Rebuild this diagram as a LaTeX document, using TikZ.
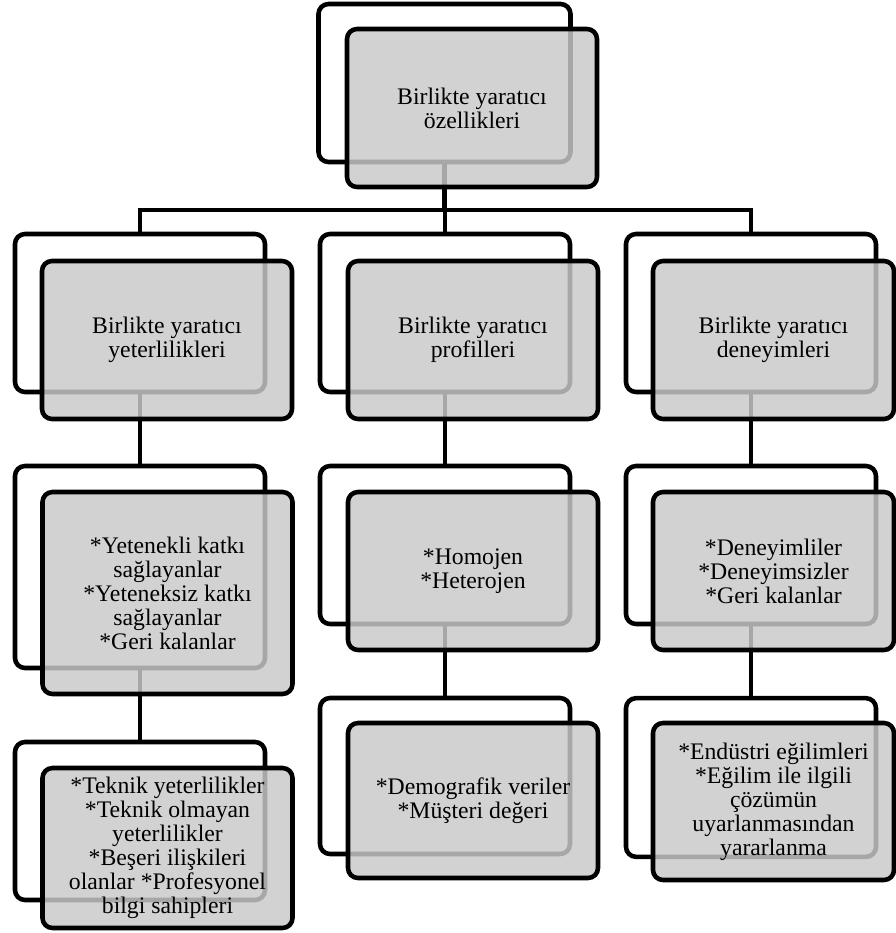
\documentclass[tikz,border=0pt]{standalone}
\usepackage{fontspec}
\setmainfont{Liberation Serif}
\begin{document}
\begin{tikzpicture}[x=0.75pt,y=-0.75pt,
  frame/.style={draw=black, line width=3.4pt, rounded corners=7.5pt, fill=white,
    minimum width=187.5pt, minimum height=118.5pt, inner sep=0pt},
  card/.style={draw=black, line width=3.4pt, rounded corners=7.5pt,
    fill=black!21, fill opacity=0.83, text opacity=1,
    minimum width=187.5pt, minimum height=118.5pt, inner sep=2pt,
    align=center, font=\fontsize{17.8}{18}\selectfont},
  link/.style={draw=black, line width=3.4pt}]
\useasboundingbox (0,0) rectangle (896,933);

% back frames
\node[frame, minimum width=189pt] (r0b) at (444.5,83) {};
\node[frame] (a1b) at (140,313) {};
\node[frame] (b1b) at (445,313) {};
\node[frame] (c1b) at (751,313) {};
\node[frame, minimum height=151.5pt] (a2b) at (140,567) {};
\node[frame] (b2b) at (445,545) {};
\node[frame] (c2b) at (751,545) {};
\node[frame] (a3b) at (140,821) {};
\node[frame, minimum height=117pt] (b3b) at (445,776) {};
\node[frame, minimum height=119pt] (c3b) at (751,777.5) {};

% connectors
\coordinate (bar) at (444.5,210);
\draw[link] (r0b.south) -- (bar);
\draw[link] (a1b.north) |- (bar);
\draw[link] (c1b.north) |- (bar);
\draw[link] (b1b.north) -- (b1b.north |- bar);
\draw[link] (a1b.south) -- (a2b.north);
\draw[link] (b1b.south) -- (b2b.north);
\draw[link] (c1b.south) -- (c2b.north);
\draw[link] (a2b.south) -- (a3b.north);
\draw[link] (b2b.south) -- (b3b.north);
\draw[link] (c2b.south) -- (c3b.north);

% front cards
\node[card] (r0) at (472,108) {Birlikte yaratıcı\\özellikleri};
\node[card] (a1) at (167,340) {Birlikte yaratıcı\\yeterlilikleri};
\node[card] (b1) at (473,340) {Birlikte yaratıcı\\profilleri};
\node[card, minimum width=180.75pt] (c1) at (773.5,340) {Birlikte yaratıcı\\deneyimleri};
\node[card, minimum height=151.5pt] (a2) at (167.5,593)
  {*Yetenekli katkı\\sağlayanlar\\*Yeteneksiz katkı\\sağlayanlar\\*Geri kalanlar};
\node[card] (b2) at (473,571) {*Homojen\\*Heterojen};
\node[card, minimum width=180.75pt] (c2) at (773.5,571)
  {*Deneyimliler\\*Deneyimsizler\\*Geri kalanlar};
\node[card, minimum height=120pt] (a3) at (167.5,848)
  {*Teknik yeterlilikler\\*Teknik olmayan\\yeterlilikler\\*Beşeri ilişkileri\\olanlar *Profesyonel\\bilgi sahipleri};
\node[card, minimum height=116.25pt] (b3) at (473,800.5)
  {*Demografik veriler\\*Müşteri değeri};
\node[card, minimum width=180.75pt, minimum height=117.75pt] (c3) at (773.5,801.5)
  {*Endüstri eğilimleri\\*Eğilim ile ilgili\\çözümün\\uyarlanmasından\\yararlanma};
\end{tikzpicture}
\end{document}
